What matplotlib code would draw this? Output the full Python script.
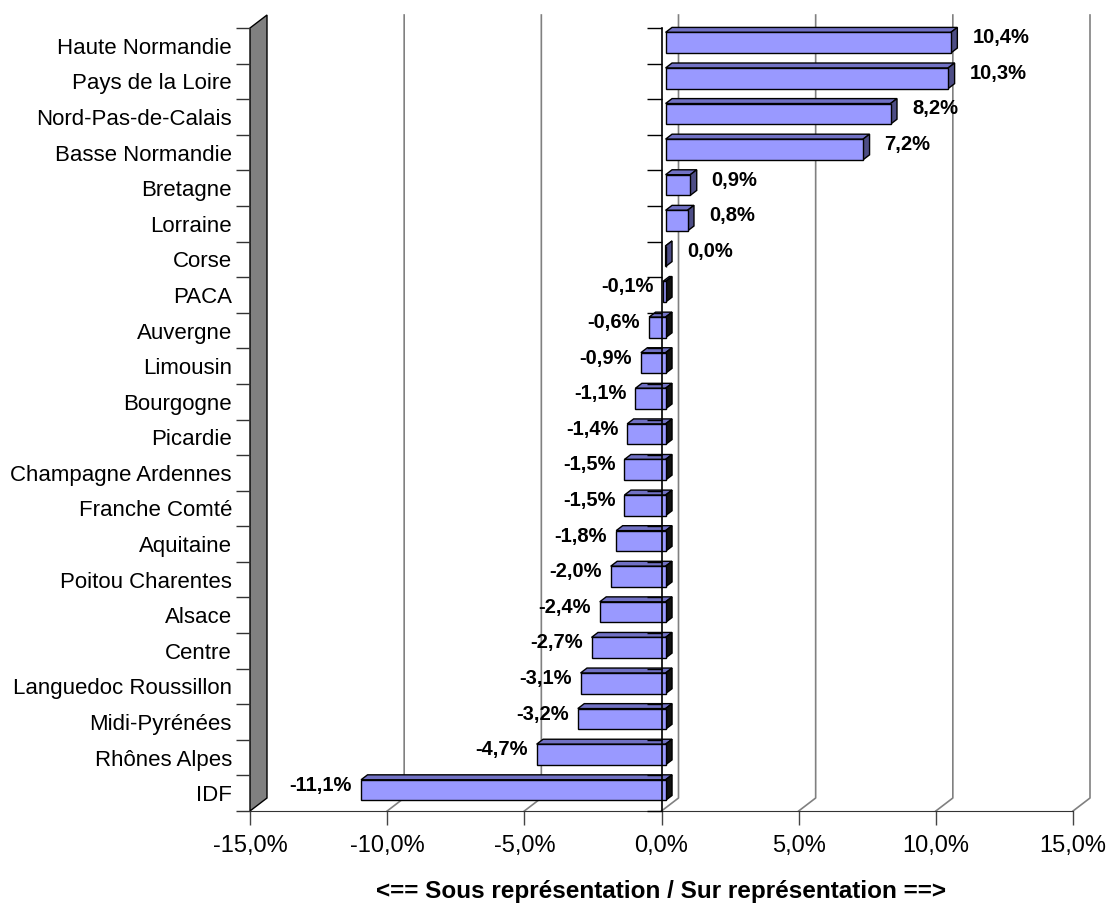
import matplotlib

matplotlib.use("Agg")
import matplotlib.pyplot as plt
from matplotlib.patches import Polygon

plt.rcParams["font.family"] = ["Liberation Sans", "DejaVu Sans"]

regions = [
    "Haute Normandie", "Pays de la Loire", "Nord-Pas-de-Calais", "Basse Normandie",
    "Bretagne", "Lorraine", "Corse", "PACA", "Auvergne", "Limousin", "Bourgogne",
    "Picardie", "Champagne Ardennes", "Franche Comté", "Aquitaine",
    "Poitou Charentes", "Alsace", "Centre", "Languedoc Roussillon",
    "Midi-Pyrénées", "Rhônes Alpes", "IDF",
]
ecart = [
    10.4, 10.3, 8.2, 7.2, 0.9, 0.8, 0.0, -0.1, -0.6, -0.9, -1.1,
    -1.4, -1.5, -1.5, -1.8, -2.0, -2.4, -2.7, -3.1, -3.2, -4.7, -11.1,
]
xticks = [-15, -10, -5, 0, 5, 10, 15]
xlabel = "<== Sous représentation / Sur représentation ==>"

W, H = 1111, 907
fig = plt.figure(figsize=(W / 100, H / 100), dpi=100)
ax_left, ax_right, ax_top, ax_bot = 250, 1073, 28, 811
ax = fig.add_axes([ax_left / W, 1 - ax_bot / H, (ax_right - ax_left) / W, (ax_bot - ax_top) / H])
n = len(regions)
ax.set_xlim(xticks[0], xticks[-1])
ax.set_ylim(n, 0)
ax.patch.set_visible(False)

# 3d depth, expressed in data units
px_x = (ax_right - ax_left) / (xticks[-1] - xticks[0])
px_y = (ax_bot - ax_top) / n
DX = 17 / px_x
DY = 13 / px_y

# left wall
wall = Polygon([(xticks[0], 0), (xticks[0], n), (xticks[0] + DX, n - DY), (xticks[0] + DX, -DY)],
               closed=True, fc="#808080", ec="black", lw=1, clip_on=False, zorder=1)
ax.add_patch(wall)

# back gridlines + floor diagonals
for v in xticks[1:]:
    ax.plot([v + DX, v + DX, v], [-DY, n - DY, n], color="#808080", lw=1.2,
            clip_on=False, zorder=1)

# bars
f0, f1, h = 0.24, 0.62, 0.58
for i, v in enumerate(ecart):
    a, b = min(v, 0), max(v, 0)
    yc = i + 0.5
    ox0, oy0 = f0 * DX, -f0 * DY
    ox1, oy1 = f1 * DX, -f1 * DY
    yt, yb = yc - h / 2, yc + h / 2
    front = [(a + ox0, yt + oy0), (b + ox0, yt + oy0), (b + ox0, yb + oy0), (a + ox0, yb + oy0)]
    top = [(a + ox0, yt + oy0), (b + ox0, yt + oy0), (b + ox1, yt + oy1), (a + ox1, yt + oy1)]
    side = [(b + ox0, yt + oy0), (b + ox1, yt + oy1), (b + ox1, yb + oy1), (b + ox0, yb + oy0)]
    side_c = "#4d4d85" if v >= 0 else "#111111"
    for pts, col in ((top, "#7171c4"), (side, side_c), (front, "#9999ff")):
        ax.add_patch(Polygon(pts, closed=True, fc=col, ec="black", lw=1, zorder=3,
                             clip_on=False, joinstyle="miter"))
    txt = f"{v:.1f}%".replace(".", ",")
    if v >= 0:
        ax.annotate(txt, xy=(b + ox1, yc), xytext=(15, 8), textcoords="offset pixels",
                    ha="left", va="center", fontsize=14.5, fontweight="bold", zorder=5)
    else:
        ax.annotate(txt, xy=(a + ox0, yc), xytext=(-9, 8), textcoords="offset pixels",
                    ha="right", va="center", fontsize=14.5, fontweight="bold", zorder=5)

# category axis at zero with small ticks
ax.plot([0, 0], [0, n], color="black", lw=1.2, zorder=4, clip_on=False)
ax.hlines(range(n + 1), -15 / px_x, 0, color="black", lw=1, zorder=4, clip_on=False)

for s in ("left", "right", "top"):
    ax.spines[s].set_visible(False)
ax.spines["bottom"].set_color("#333333")
ax.spines["bottom"].set_zorder(2)

ax.set_xticks(xticks)
ax.set_xticklabels([f"{t:.1f}%".replace(".", ",") for t in xticks], fontsize=17)
ax.tick_params(axis="x", direction="out", length=10, width=1, color="#444444", pad=7)

ax.set_yticks(range(n + 1))
ax.set_yticklabels([])
ax.tick_params(axis="y", which="major", direction="out", length=10, width=1, color="#333333")
ax.set_yticks([i + 0.5 for i in range(n)], minor=True)
ax.set_yticklabels(regions, minor=True, fontsize=16)
ax.tick_params(axis="y", which="minor", length=0, pad=13)

ax.set_xlabel(xlabel, fontsize=17.5, fontweight="bold", labelpad=17)

fig.savefig("out.png", dpi=100, facecolor="white")
